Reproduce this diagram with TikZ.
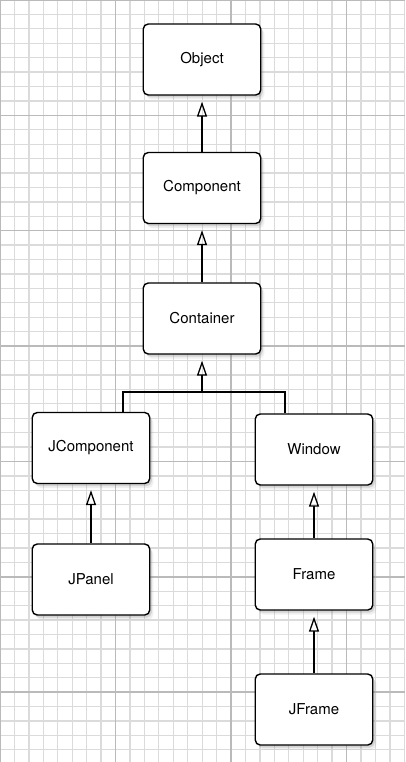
\documentclass[tikz,border=0pt]{standalone}
\usepackage{fontspec}
\setsansfont{TeX Gyre Heros}
\usepackage{tikz}
\usetikzlibrary{arrows.meta}
\usetikzlibrary{shadows}
\usetikzlibrary{calc}

\tikzset{
  classbox/.style={draw, line width=1.4pt, rounded corners=5pt, fill=white,
    minimum width=117.5pt, minimum height=71pt,
    font=\sffamily\fontsize{15}{18}\selectfont,
    drop shadow={shadow xshift=3.5pt, shadow yshift=-4.5pt, opacity=0.12},
    drop shadow={shadow xshift=2pt, shadow yshift=-2.5pt, opacity=0.25}},
  inherit/.style={line width=1.6pt, shorten >=6pt,
    -{Triangle[open, length=15pt, width=10pt, line width=1.3pt]}},
  fork/.style={line width=1.6pt},
  gridminor/.style={draw=black!14, line width=1.3pt},
  gridmajor/.style={draw=black!27, line width=1.5pt}
}

\begin{document}
\begin{tikzpicture}[x=1pt, y=-1pt]
\useasboundingbox (0,0) rectangle (405,762);

%grid
\fill[white] (0,0) rectangle (405,762);
\foreach \i in {0,...,28} \draw[gridminor] (\i*14.44,0) -- (\i*14.44,762);
\foreach \j in {0,...,52} \draw[gridminor] (0,\j*14.42) -- (405,\j*14.42);
\foreach \i in {0,8,16,24} \draw[gridmajor] (\i*14.44,0) -- (\i*14.44,762);
\foreach \j in {0,8,...,48} \draw[gridmajor] (0,\j*14.42) -- (405,\j*14.42);

%classes
\node[classbox] (object) at (202,59.5) {Object};
\node[classbox] (component) at (202,188) {Component};
\node[classbox] (container) at (202,318.5) {Container};
\node[classbox] (jcomponent) at (91,448) {JComponent};
\node[classbox] (window) at (314,449.5) {Window};
\node[classbox] (jpanel) at (91,579.5) {JPanel};
\node[classbox] (frame) at (314,574.5) {Frame};
\node[classbox] (jframe) at (314,709.5) {JFrame};

%inheritance
\draw[inherit] (component) -- (object);
\draw[inherit] (container) -- (component);
\coordinate (fork) at (202,392);
\draw[fork] ([xshift=32pt]jcomponent.north) |- (fork) -| ([xshift=-29pt]window.north);
\draw[inherit] (fork) -- (container);
\draw[inherit] (jpanel) -- (jcomponent);
\draw[inherit] (frame) -- (window);
\draw[inherit] (jframe) -- (frame);

\end{tikzpicture}
\end{document}
